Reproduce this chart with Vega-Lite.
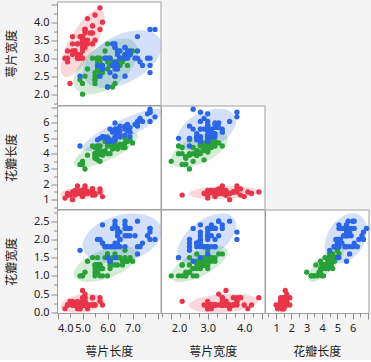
{
"$schema": "https://vega.github.io/schema/vega-lite/v6.json",
"background": "#f4f4f4",
"padding": {"left": 4, "top": 0.5, "right": 2, "bottom": 2},
"spacing": -1,
"config": {
  "view": {"fill": "#ffffff", "stroke": "#a0a0a0", "strokeWidth": 1},
  "concat": {"spacing": 0},
  "axis": {"domain": false, "grid": false, "tickColor": "#8c8c8c", "labelFont": "Noto Sans", "labelFontSize": 11, "labelColor": "#222222", "titleFont": "Noto Sans CJK SC", "titleFontSize": 12, "titleFontWeight": "normal", "titleColor": "#222222"},
  "axisY": {"minExtent": 30, "maxExtent": 30, "titlePadding": 9, "labelPadding": 2},
  "axisX": {"minExtent": 22, "maxExtent": 22, "titlePadding": 11, "labelPadding": 3}
},
"datasets": {
"iris": [
{"sp":"setosa","sl":5.1,"sw":3.5,"pl":1.4,"pw":0.2},{"sp":"setosa","sl":4.9,"sw":3.0,"pl":1.4,"pw":0.2},{"sp":"setosa","sl":4.7,"sw":3.2,"pl":1.3,"pw":0.2},{"sp":"setosa","sl":4.6,"sw":3.1,"pl":1.5,"pw":0.2},{"sp":"setosa","sl":5.0,"sw":3.6,"pl":1.4,"pw":0.2},
{"sp":"setosa","sl":5.4,"sw":3.9,"pl":1.7,"pw":0.4},{"sp":"setosa","sl":4.6,"sw":3.4,"pl":1.4,"pw":0.3},{"sp":"setosa","sl":5.0,"sw":3.4,"pl":1.5,"pw":0.2},{"sp":"setosa","sl":4.4,"sw":2.9,"pl":1.4,"pw":0.2},{"sp":"setosa","sl":4.9,"sw":3.1,"pl":1.5,"pw":0.1},
{"sp":"setosa","sl":5.4,"sw":3.7,"pl":1.5,"pw":0.2},{"sp":"setosa","sl":4.8,"sw":3.4,"pl":1.6,"pw":0.2},{"sp":"setosa","sl":4.8,"sw":3.0,"pl":1.4,"pw":0.1},{"sp":"setosa","sl":4.3,"sw":3.0,"pl":1.1,"pw":0.1},{"sp":"setosa","sl":5.8,"sw":4.0,"pl":1.2,"pw":0.2},
{"sp":"setosa","sl":5.7,"sw":4.4,"pl":1.5,"pw":0.4},{"sp":"setosa","sl":5.4,"sw":3.9,"pl":1.3,"pw":0.4},{"sp":"setosa","sl":5.1,"sw":3.5,"pl":1.4,"pw":0.3},{"sp":"setosa","sl":5.7,"sw":3.8,"pl":1.7,"pw":0.3},{"sp":"setosa","sl":5.1,"sw":3.8,"pl":1.5,"pw":0.3},
{"sp":"setosa","sl":5.4,"sw":3.4,"pl":1.7,"pw":0.2},{"sp":"setosa","sl":5.1,"sw":3.7,"pl":1.5,"pw":0.4},{"sp":"setosa","sl":4.6,"sw":3.6,"pl":1.0,"pw":0.2},{"sp":"setosa","sl":5.1,"sw":3.3,"pl":1.7,"pw":0.5},{"sp":"setosa","sl":4.8,"sw":3.4,"pl":1.9,"pw":0.2},
{"sp":"setosa","sl":5.0,"sw":3.0,"pl":1.6,"pw":0.2},{"sp":"setosa","sl":5.0,"sw":3.4,"pl":1.6,"pw":0.4},{"sp":"setosa","sl":5.2,"sw":3.5,"pl":1.5,"pw":0.2},{"sp":"setosa","sl":5.2,"sw":3.4,"pl":1.4,"pw":0.2},{"sp":"setosa","sl":4.7,"sw":3.2,"pl":1.6,"pw":0.2},
{"sp":"setosa","sl":4.8,"sw":3.1,"pl":1.6,"pw":0.2},{"sp":"setosa","sl":5.4,"sw":3.4,"pl":1.5,"pw":0.4},{"sp":"setosa","sl":5.2,"sw":4.1,"pl":1.5,"pw":0.1},{"sp":"setosa","sl":5.5,"sw":4.2,"pl":1.4,"pw":0.2},{"sp":"setosa","sl":4.9,"sw":3.1,"pl":1.5,"pw":0.2},
{"sp":"setosa","sl":5.0,"sw":3.2,"pl":1.2,"pw":0.2},{"sp":"setosa","sl":5.5,"sw":3.5,"pl":1.3,"pw":0.2},{"sp":"setosa","sl":4.9,"sw":3.6,"pl":1.4,"pw":0.1},{"sp":"setosa","sl":4.4,"sw":3.0,"pl":1.3,"pw":0.2},{"sp":"setosa","sl":5.1,"sw":3.4,"pl":1.5,"pw":0.2},
{"sp":"setosa","sl":5.0,"sw":3.5,"pl":1.3,"pw":0.3},{"sp":"setosa","sl":4.5,"sw":2.3,"pl":1.3,"pw":0.3},{"sp":"setosa","sl":4.4,"sw":3.2,"pl":1.3,"pw":0.2},{"sp":"setosa","sl":5.0,"sw":3.5,"pl":1.6,"pw":0.6},{"sp":"setosa","sl":5.1,"sw":3.8,"pl":1.9,"pw":0.4},
{"sp":"setosa","sl":4.8,"sw":3.0,"pl":1.4,"pw":0.3},{"sp":"setosa","sl":5.1,"sw":3.8,"pl":1.6,"pw":0.2},{"sp":"setosa","sl":4.6,"sw":3.2,"pl":1.4,"pw":0.2},{"sp":"setosa","sl":5.3,"sw":3.7,"pl":1.5,"pw":0.2},{"sp":"setosa","sl":5.0,"sw":3.3,"pl":1.4,"pw":0.2},
{"sp":"versicolor","sl":7.0,"sw":3.2,"pl":4.7,"pw":1.4},{"sp":"versicolor","sl":6.4,"sw":3.2,"pl":4.5,"pw":1.5},{"sp":"versicolor","sl":6.9,"sw":3.1,"pl":4.9,"pw":1.5},{"sp":"versicolor","sl":5.5,"sw":2.3,"pl":4.0,"pw":1.3},{"sp":"versicolor","sl":6.5,"sw":2.8,"pl":4.6,"pw":1.5},
{"sp":"versicolor","sl":5.7,"sw":2.8,"pl":4.5,"pw":1.3},{"sp":"versicolor","sl":6.3,"sw":3.3,"pl":4.7,"pw":1.6},{"sp":"versicolor","sl":4.9,"sw":2.4,"pl":3.3,"pw":1.0},{"sp":"versicolor","sl":6.6,"sw":2.9,"pl":4.6,"pw":1.3},{"sp":"versicolor","sl":5.2,"sw":2.7,"pl":3.9,"pw":1.4},
{"sp":"versicolor","sl":5.0,"sw":2.0,"pl":3.5,"pw":1.0},{"sp":"versicolor","sl":5.9,"sw":3.0,"pl":4.2,"pw":1.5},{"sp":"versicolor","sl":6.0,"sw":2.2,"pl":4.0,"pw":1.0},{"sp":"versicolor","sl":6.1,"sw":2.9,"pl":4.7,"pw":1.4},{"sp":"versicolor","sl":5.6,"sw":2.9,"pl":3.6,"pw":1.3},
{"sp":"versicolor","sl":6.7,"sw":3.1,"pl":4.4,"pw":1.4},{"sp":"versicolor","sl":5.6,"sw":3.0,"pl":4.5,"pw":1.5},{"sp":"versicolor","sl":5.8,"sw":2.7,"pl":4.1,"pw":1.0},{"sp":"versicolor","sl":6.2,"sw":2.2,"pl":4.5,"pw":1.5},{"sp":"versicolor","sl":5.6,"sw":2.5,"pl":3.9,"pw":1.1},
{"sp":"versicolor","sl":5.9,"sw":3.2,"pl":4.8,"pw":1.8},{"sp":"versicolor","sl":6.1,"sw":2.8,"pl":4.0,"pw":1.3},{"sp":"versicolor","sl":6.3,"sw":2.5,"pl":4.9,"pw":1.5},{"sp":"versicolor","sl":6.1,"sw":2.8,"pl":4.7,"pw":1.2},{"sp":"versicolor","sl":6.4,"sw":2.9,"pl":4.3,"pw":1.3},
{"sp":"versicolor","sl":6.6,"sw":3.0,"pl":4.4,"pw":1.4},{"sp":"versicolor","sl":6.8,"sw":2.8,"pl":4.8,"pw":1.4},{"sp":"versicolor","sl":6.7,"sw":3.0,"pl":5.0,"pw":1.7},{"sp":"versicolor","sl":6.0,"sw":2.9,"pl":4.5,"pw":1.5},{"sp":"versicolor","sl":5.7,"sw":2.6,"pl":3.5,"pw":1.0},
{"sp":"versicolor","sl":5.5,"sw":2.4,"pl":3.8,"pw":1.1},{"sp":"versicolor","sl":5.5,"sw":2.4,"pl":3.7,"pw":1.0},{"sp":"versicolor","sl":5.8,"sw":2.7,"pl":3.9,"pw":1.2},{"sp":"versicolor","sl":6.0,"sw":2.7,"pl":5.1,"pw":1.6},{"sp":"versicolor","sl":5.4,"sw":3.0,"pl":4.5,"pw":1.5},
{"sp":"versicolor","sl":6.0,"sw":3.4,"pl":4.5,"pw":1.6},{"sp":"versicolor","sl":6.7,"sw":3.1,"pl":4.7,"pw":1.5},{"sp":"versicolor","sl":6.3,"sw":2.3,"pl":4.4,"pw":1.3},{"sp":"versicolor","sl":5.6,"sw":3.0,"pl":4.1,"pw":1.3},{"sp":"versicolor","sl":5.5,"sw":2.5,"pl":4.0,"pw":1.3},
{"sp":"versicolor","sl":5.5,"sw":2.6,"pl":4.4,"pw":1.2},{"sp":"versicolor","sl":6.1,"sw":3.0,"pl":4.6,"pw":1.4},{"sp":"versicolor","sl":5.8,"sw":2.6,"pl":4.0,"pw":1.2},{"sp":"versicolor","sl":5.0,"sw":2.3,"pl":3.3,"pw":1.0},{"sp":"versicolor","sl":5.6,"sw":2.7,"pl":4.2,"pw":1.3},
{"sp":"versicolor","sl":5.7,"sw":3.0,"pl":4.2,"pw":1.2},{"sp":"versicolor","sl":5.7,"sw":2.9,"pl":4.2,"pw":1.3},{"sp":"versicolor","sl":6.2,"sw":2.9,"pl":4.3,"pw":1.3},{"sp":"versicolor","sl":5.1,"sw":2.5,"pl":3.0,"pw":1.1},{"sp":"versicolor","sl":5.7,"sw":2.8,"pl":4.1,"pw":1.3},
{"sp":"virginica","sl":6.3,"sw":3.3,"pl":6.0,"pw":2.5},{"sp":"virginica","sl":5.8,"sw":2.7,"pl":5.1,"pw":1.9},{"sp":"virginica","sl":7.1,"sw":3.0,"pl":5.9,"pw":2.1},{"sp":"virginica","sl":6.3,"sw":2.9,"pl":5.6,"pw":1.8},{"sp":"virginica","sl":6.5,"sw":3.0,"pl":5.8,"pw":2.2},
{"sp":"virginica","sl":7.6,"sw":3.0,"pl":6.6,"pw":2.1},{"sp":"virginica","sl":4.9,"sw":2.5,"pl":4.5,"pw":1.7},{"sp":"virginica","sl":7.3,"sw":2.9,"pl":6.3,"pw":1.8},{"sp":"virginica","sl":6.7,"sw":2.5,"pl":5.8,"pw":1.8},{"sp":"virginica","sl":7.2,"sw":3.6,"pl":6.1,"pw":2.5},
{"sp":"virginica","sl":6.5,"sw":3.2,"pl":5.1,"pw":2.0},{"sp":"virginica","sl":6.4,"sw":2.7,"pl":5.3,"pw":1.9},{"sp":"virginica","sl":6.8,"sw":3.0,"pl":5.5,"pw":2.1},{"sp":"virginica","sl":5.7,"sw":2.5,"pl":5.0,"pw":2.0},{"sp":"virginica","sl":5.8,"sw":2.8,"pl":5.1,"pw":2.4},
{"sp":"virginica","sl":6.4,"sw":3.2,"pl":5.3,"pw":2.3},{"sp":"virginica","sl":6.5,"sw":3.0,"pl":5.5,"pw":1.8},{"sp":"virginica","sl":7.7,"sw":3.8,"pl":6.7,"pw":2.2},{"sp":"virginica","sl":7.7,"sw":2.6,"pl":6.9,"pw":2.3},{"sp":"virginica","sl":6.0,"sw":2.2,"pl":5.0,"pw":1.5},
{"sp":"virginica","sl":6.9,"sw":3.2,"pl":5.7,"pw":2.3},{"sp":"virginica","sl":5.6,"sw":2.8,"pl":4.9,"pw":2.0},{"sp":"virginica","sl":7.7,"sw":2.8,"pl":6.7,"pw":2.0},{"sp":"virginica","sl":6.3,"sw":2.7,"pl":4.9,"pw":1.8},{"sp":"virginica","sl":6.7,"sw":3.3,"pl":5.7,"pw":2.1},
{"sp":"virginica","sl":7.2,"sw":3.2,"pl":6.0,"pw":1.8},{"sp":"virginica","sl":6.2,"sw":2.8,"pl":4.8,"pw":1.8},{"sp":"virginica","sl":6.1,"sw":3.0,"pl":4.9,"pw":1.8},{"sp":"virginica","sl":6.4,"sw":2.8,"pl":5.6,"pw":2.1},{"sp":"virginica","sl":7.2,"sw":3.0,"pl":5.8,"pw":1.6},
{"sp":"virginica","sl":7.4,"sw":2.8,"pl":6.1,"pw":1.9},{"sp":"virginica","sl":7.9,"sw":3.8,"pl":6.4,"pw":2.0},{"sp":"virginica","sl":6.4,"sw":2.8,"pl":5.6,"pw":2.2},{"sp":"virginica","sl":6.3,"sw":2.8,"pl":5.1,"pw":1.5},{"sp":"virginica","sl":6.1,"sw":2.6,"pl":5.6,"pw":1.4},
{"sp":"virginica","sl":7.7,"sw":3.0,"pl":6.1,"pw":2.3},{"sp":"virginica","sl":6.3,"sw":3.4,"pl":5.6,"pw":2.4},{"sp":"virginica","sl":6.4,"sw":3.1,"pl":5.5,"pw":1.8},{"sp":"virginica","sl":6.0,"sw":3.0,"pl":4.8,"pw":1.8},{"sp":"virginica","sl":6.9,"sw":3.1,"pl":5.4,"pw":2.1},
{"sp":"virginica","sl":6.7,"sw":3.1,"pl":5.6,"pw":2.4},{"sp":"virginica","sl":6.9,"sw":3.1,"pl":5.1,"pw":2.3},{"sp":"virginica","sl":5.8,"sw":2.7,"pl":5.1,"pw":1.9},{"sp":"virginica","sl":6.8,"sw":3.2,"pl":5.9,"pw":2.3},{"sp":"virginica","sl":6.7,"sw":3.3,"pl":5.7,"pw":2.5},
{"sp":"virginica","sl":6.7,"sw":3.0,"pl":5.2,"pw":2.3},{"sp":"virginica","sl":6.3,"sw":2.5,"pl":5.0,"pw":1.9},{"sp":"virginica","sl":6.5,"sw":3.0,"pl":5.2,"pw":2.0},{"sp":"virginica","sl":6.2,"sw":3.4,"pl":5.4,"pw":2.3},{"sp":"virginica","sl":5.9,"sw":3.0,"pl":5.1,"pw":1.8}
],
"e1": [
{"sp":"setosa","i":0,"sl":5.887,"sw":4.132},{"sp":"setosa","i":1,"sl":5.629,"sw":4.375},{"sp":"setosa","i":2,"sl":5.006,"sw":4.063},{"sp":"setosa","i":3,"sl":4.383,"sw":3.379},{"sp":"setosa","i":4,"sl":4.125,"sw":2.724},{"sp":"setosa","i":5,"sl":4.383,"sw":2.481},{"sp":"setosa","i":6,"sl":5.006,"sw":2.793},{"sp":"setosa","i":7,"sl":5.629,"sw":3.477},
{"sp":"versicolor","i":0,"sl":7.227,"sw":3.183},{"sp":"versicolor","i":1,"sl":6.849,"sw":3.534},{"sp":"versicolor","i":2,"sl":5.936,"sw":3.437},{"sp":"versicolor","i":3,"sl":5.024,"sw":2.950},{"sp":"versicolor","i":4,"sl":4.646,"sw":2.357},{"sp":"versicolor","i":5,"sl":5.024,"sw":2.007},{"sp":"versicolor","i":6,"sl":5.936,"sw":2.103},{"sp":"versicolor","i":7,"sl":6.849,"sw":2.590},
{"sp":"virginica","i":0,"sl":8.178,"sw":3.343},{"sp":"virginica","i":1,"sl":7.712,"sw":3.742},{"sp":"virginica","i":2,"sl":6.588,"sw":3.691},{"sp":"virginica","i":3,"sl":5.464,"sw":3.220},{"sp":"virginica","i":4,"sl":4.998,"sw":2.605},{"sp":"virginica","i":5,"sl":5.464,"sw":2.206},{"sp":"virginica","i":6,"sl":6.588,"sw":2.257},{"sp":"virginica","i":7,"sl":7.712,"sw":2.728}
],
"e2": [
{"sp":"setosa","i":0,"sl":5.887,"pl":1.578},{"sp":"setosa","i":1,"sl":5.629,"pl":1.840},{"sp":"setosa","i":2,"sl":5.006,"pl":1.881},{"sp":"setosa","i":3,"sl":4.383,"pl":1.676},{"sp":"setosa","i":4,"sl":4.125,"pl":1.346},{"sp":"setosa","i":5,"sl":4.383,"pl":1.084},{"sp":"setosa","i":6,"sl":5.006,"pl":1.044},{"sp":"setosa","i":7,"sl":5.629,"pl":1.248},
{"sp":"versicolor","i":0,"sl":7.227,"pl":5.146},{"sp":"versicolor","i":1,"sl":6.849,"pl":5.432},{"sp":"versicolor","i":2,"sl":5.936,"pl":5.032},{"sp":"versicolor","i":3,"sl":5.024,"pl":4.179},{"sp":"versicolor","i":4,"sl":4.646,"pl":3.374},{"sp":"versicolor","i":5,"sl":5.024,"pl":3.088},{"sp":"versicolor","i":6,"sl":5.936,"pl":3.488},{"sp":"versicolor","i":7,"sl":6.849,"pl":4.341},
{"sp":"virginica","i":0,"sl":8.178,"pl":6.744},{"sp":"virginica","i":1,"sl":7.712,"pl":6.886},{"sp":"virginica","i":2,"sl":6.588,"pl":6.246},{"sp":"virginica","i":3,"sl":5.464,"pl":5.200},{"sp":"virginica","i":4,"sl":4.998,"pl":4.360},{"sp":"virginica","i":5,"sl":5.464,"pl":4.218},{"sp":"virginica","i":6,"sl":6.588,"pl":4.858},{"sp":"virginica","i":7,"sl":7.712,"pl":5.904}
],
"e3": [
{"sp":"setosa","i":0,"sw":4.376,"pl":1.539},{"sp":"setosa","i":1,"sw":4.098,"pl":1.819},{"sp":"setosa","i":2,"sw":3.428,"pl":1.889},{"sp":"setosa","i":3,"sw":2.758,"pl":1.710},{"sp":"setosa","i":4,"sw":2.480,"pl":1.385},{"sp":"setosa","i":5,"sw":2.758,"pl":1.105},{"sp":"setosa","i":6,"sw":3.428,"pl":1.035},{"sp":"setosa","i":7,"sw":4.098,"pl":1.214},
{"sp":"versicolor","i":0,"sw":3.555,"pl":4.919},{"sp":"versicolor","i":1,"sw":3.325,"pl":5.414},{"sp":"versicolor","i":2,"sw":2.770,"pl":5.233},{"sp":"versicolor","i":3,"sw":2.215,"pl":4.482},{"sp":"versicolor","i":4,"sw":1.986,"pl":3.602},{"sp":"versicolor","i":5,"sw":2.215,"pl":3.107},{"sp":"versicolor","i":6,"sw":2.770,"pl":3.287},{"sp":"versicolor","i":7,"sw":3.325,"pl":4.038},
{"sp":"virginica","i":0,"sw":3.780,"pl":6.105},{"sp":"virginica","i":1,"sw":3.544,"pl":6.837},{"sp":"virginica","i":2,"sw":2.974,"pl":6.816},{"sp":"virginica","i":3,"sw":2.404,"pl":6.055},{"sp":"virginica","i":4,"sw":2.168,"pl":4.999},{"sp":"virginica","i":5,"sw":2.404,"pl":4.267},{"sp":"virginica","i":6,"sw":2.974,"pl":4.288},{"sp":"virginica","i":7,"sw":3.544,"pl":5.049}
],
"e4": [
{"sp":"setosa","i":0,"sl":5.887,"pw":0.319},{"sp":"setosa","i":1,"sl":5.629,"pw":0.477},{"sp":"setosa","i":2,"sl":5.006,"pw":0.499},{"sp":"setosa","i":3,"sl":4.383,"pw":0.373},{"sp":"setosa","i":4,"sl":4.125,"pw":0.173},{"sp":"setosa","i":5,"sl":4.383,"pw":0.015},{"sp":"setosa","i":6,"sl":5.006,"pw":-0.007},{"sp":"setosa","i":7,"sl":5.629,"pw":0.119},
{"sp":"versicolor","i":0,"sl":7.227,"pw":1.596},{"sp":"versicolor","i":1,"sl":6.849,"pw":1.810},{"sp":"versicolor","i":2,"sl":5.936,"pw":1.740},{"sp":"versicolor","i":3,"sl":5.024,"pw":1.428},{"sp":"versicolor","i":4,"sl":4.646,"pw":1.056},{"sp":"versicolor","i":5,"sl":5.024,"pw":0.842},{"sp":"versicolor","i":6,"sl":5.936,"pw":0.912},{"sp":"versicolor","i":7,"sl":6.849,"pw":1.224},
{"sp":"virginica","i":0,"sl":8.178,"pw":2.219},{"sp":"virginica","i":1,"sl":7.712,"pw":2.629},{"sp":"virginica","i":2,"sl":6.588,"pw":2.685},{"sp":"virginica","i":3,"sl":5.464,"pw":2.356},{"sp":"virginica","i":4,"sl":4.998,"pw":1.833},{"sp":"virginica","i":5,"sl":5.464,"pw":1.424},{"sp":"virginica","i":6,"sl":6.588,"pw":1.367},{"sp":"virginica","i":7,"sl":7.712,"pw":1.696}
],
"e5": [
{"sp":"setosa","i":0,"sw":4.376,"pw":0.307},{"sp":"setosa","i":1,"sw":4.098,"pw":0.471},{"sp":"setosa","i":2,"sw":3.428,"pw":0.502},{"sp":"setosa","i":3,"sw":2.758,"pw":0.384},{"sp":"setosa","i":4,"sw":2.480,"pw":0.185},{"sp":"setosa","i":5,"sw":2.758,"pw":0.022},{"sp":"setosa","i":6,"sw":3.428,"pw":-0.010},{"sp":"setosa","i":7,"sw":4.098,"pw":0.108},
{"sp":"versicolor","i":0,"sw":3.555,"pw":1.654},{"sp":"versicolor","i":1,"sw":3.325,"pw":1.820},{"sp":"versicolor","i":2,"sw":2.770,"pw":1.696},{"sp":"versicolor","i":3,"sw":2.215,"pw":1.355},{"sp":"versicolor","i":4,"sw":1.986,"pw":0.998},{"sp":"versicolor","i":5,"sw":2.215,"pw":0.832},{"sp":"versicolor","i":6,"sw":2.770,"pw":0.956},{"sp":"versicolor","i":7,"sw":3.325,"pw":1.297},
{"sp":"virginica","i":0,"sw":3.780,"pw":2.395},{"sp":"virginica","i":1,"sw":3.544,"pw":2.697},{"sp":"virginica","i":2,"sw":2.974,"pw":2.605},{"sp":"virginica","i":3,"sw":2.404,"pw":2.174},{"sp":"virginica","i":4,"sw":2.168,"pw":1.657},{"sp":"virginica","i":5,"sw":2.404,"pw":1.356},{"sp":"virginica","i":6,"sw":2.974,"pw":1.447},{"sp":"virginica","i":7,"sw":3.544,"pw":1.878}
],
"e6": [
{"sp":"setosa","i":0,"pl":1.896,"pw":0.333},{"sp":"setosa","i":1,"pl":1.769,"pw":0.484},{"sp":"setosa","i":2,"pl":1.462,"pw":0.495},{"sp":"setosa","i":3,"pl":1.155,"pw":0.360},{"sp":"setosa","i":4,"pl":1.028,"pw":0.159},{"sp":"setosa","i":5,"pl":1.155,"pw":0.009},{"sp":"setosa","i":6,"pl":1.462,"pw":-0.003},{"sp":"setosa","i":7,"pl":1.769,"pw":0.132},
{"sp":"versicolor","i":0,"pl":5.435,"pw":1.715},{"sp":"versicolor","i":1,"pl":5.091,"pw":1.817},{"sp":"versicolor","i":2,"pl":4.260,"pw":1.631},{"sp":"versicolor","i":3,"pl":3.429,"pw":1.267},{"sp":"versicolor","i":4,"pl":3.085,"pw":0.937},{"sp":"versicolor","i":5,"pl":3.429,"pw":0.835},{"sp":"versicolor","i":6,"pl":4.260,"pw":1.021},{"sp":"versicolor","i":7,"pl":5.091,"pw":1.385},
{"sp":"virginica","i":0,"pl":6.932,"pw":2.247},{"sp":"virginica","i":1,"pl":6.528,"pw":2.642},{"sp":"virginica","i":2,"pl":5.552,"pw":2.676},{"sp":"virginica","i":3,"pl":4.576,"pw":2.329},{"sp":"virginica","i":4,"pl":4.172,"pw":1.805},{"sp":"virginica","i":5,"pl":4.576,"pw":1.410},{"sp":"virginica","i":6,"pl":5.552,"pw":1.376},{"sp":"virginica","i":7,"pl":6.528,"pw":1.723}
]
},
"vconcat": [
{"hconcat": [
  {"width": 103.5, "height": 103.5,
   "encoding": {
     "x": {"field": "sl", "type": "quantitative", "scale": {"domain": [3.98, 8.12], "nice": false, "zero": false}, "axis": null},
     "y": {"field": "sw", "type": "quantitative", "scale": {"domain": [1.70, 4.575], "nice": false, "zero": false},
           "axis": {"title": "萼片宽度", "values": [1.75,2,2.25,2.5,2.75,3,3.25,3.5,3.75,4,4.25,4.5], "labelExpr": "datum.value % 0.5 === 0 && datum.value <= 4 ? format(datum.value, '.1f') : ''", "tickSize": {"condition": {"test": "datum.value % 0.5 === 0", "value": 6}, "value": 3.5}}}
   },
   "layer": [
     {"data": {"name": "e1"}, "mark": {"type": "line", "interpolate": "cardinal-closed", "fillOpacity": 0.2, "strokeWidth": 0, "clip": true},
      "encoding": {"fill": {"field": "sp", "type": "nominal", "scale": {"domain": ["setosa","versicolor","virginica"], "range": ["#E8354A","#29A038","#2A66E6"]}, "legend": null}, "order": {"field": "i", "type": "quantitative"}}},
     {"data": {"name": "iris"}, "mark": {"type": "circle", "size": 28, "opacity": 1},
      "encoding": {"color": {"field": "sp", "type": "nominal", "scale": {"domain": ["setosa","versicolor","virginica"], "range": ["#E8354A","#29A038","#2A66E6"]}, "legend": null}}}
   ]}
], "spacing": 0, "bounds": "flush"},
{"hconcat": [
  {"width": 103.5, "height": 103.5,
   "encoding": {
     "x": {"field": "sl", "type": "quantitative", "scale": {"domain": [3.98, 8.12], "nice": false, "zero": false}, "axis": null},
     "y": {"field": "pl", "type": "quantitative", "scale": {"domain": [0.39, 7.14], "nice": false, "zero": false},
           "axis": {"title": "花瓣长度", "values": [0.5,1,1.5,2,2.5,3,3.5,4,4.5,5,5.5,6,6.5,7], "labelExpr": "datum.value % 1 === 0 && datum.value <= 6 ? format(datum.value, 'd') : ''", "tickSize": {"condition": {"test": "datum.value % 1 === 0", "value": 6}, "value": 3.5}}}
   },
   "layer": [
     {"data": {"name": "e2"}, "mark": {"type": "line", "interpolate": "cardinal-closed", "fillOpacity": 0.2, "strokeWidth": 0, "clip": true},
      "encoding": {"fill": {"field": "sp", "type": "nominal", "scale": {"domain": ["setosa","versicolor","virginica"], "range": ["#E8354A","#29A038","#2A66E6"]}, "legend": null}, "order": {"field": "i", "type": "quantitative"}}},
     {"data": {"name": "iris"}, "mark": {"type": "circle", "size": 28, "opacity": 1},
      "encoding": {"color": {"field": "sp", "type": "nominal", "scale": {"domain": ["setosa","versicolor","virginica"], "range": ["#E8354A","#29A038","#2A66E6"]}, "legend": null}}}
   ]},
  {"width": 103.5, "height": 103.5,
   "encoding": {
     "x": {"field": "sw", "type": "quantitative", "scale": {"domain": [1.72, 4.556], "nice": false, "zero": false}, "axis": null},
     "y": {"field": "pl", "type": "quantitative", "scale": {"domain": [0.39, 7.14], "nice": false, "zero": false}, "axis": null}
   },
   "layer": [
     {"data": {"name": "e3"}, "mark": {"type": "line", "interpolate": "cardinal-closed", "fillOpacity": 0.2, "strokeWidth": 0, "clip": true},
      "encoding": {"fill": {"field": "sp", "type": "nominal", "scale": {"domain": ["setosa","versicolor","virginica"], "range": ["#E8354A","#29A038","#2A66E6"]}, "legend": null}, "order": {"field": "i", "type": "quantitative"}}},
     {"data": {"name": "iris"}, "mark": {"type": "circle", "size": 28, "opacity": 1},
      "encoding": {"color": {"field": "sp", "type": "nominal", "scale": {"domain": ["setosa","versicolor","virginica"], "range": ["#E8354A","#29A038","#2A66E6"]}, "legend": null}}}
   ]}
], "spacing": 0, "bounds": "flush"},
{"hconcat": [
  {"width": 103.5, "height": 103.5,
   "encoding": {
     "x": {"field": "sl", "type": "quantitative", "scale": {"domain": [3.98, 8.12], "nice": false, "zero": false},
           "axis": {"title": "萼片长度", "values": [4,4.5,5,5.5,6,6.5,7,7.5,8], "labelExpr": "datum.value % 1 === 0 && datum.value < 8 ? format(datum.value, '.1f') : ''", "labelFlush": 2, "tickSize": {"condition": {"test": "datum.value % 1 === 0", "value": 6}, "value": 4}}},
     "y": {"field": "pw", "type": "quantitative", "scale": {"domain": [-0.02, 2.82], "nice": false, "zero": false},
           "axis": {"title": "花瓣宽度", "values": [0,0.25,0.5,0.75,1,1.25,1.5,1.75,2,2.25,2.5,2.75], "labelExpr": "datum.value % 0.5 === 0 && datum.value <= 2.5 ? format(datum.value, '.1f') : ''", "tickSize": {"condition": {"test": "datum.value % 0.5 === 0", "value": 6}, "value": 3.5}}}
   },
   "layer": [
     {"data": {"name": "e4"}, "mark": {"type": "line", "interpolate": "cardinal-closed", "fillOpacity": 0.2, "strokeWidth": 0, "clip": true},
      "encoding": {"fill": {"field": "sp", "type": "nominal", "scale": {"domain": ["setosa","versicolor","virginica"], "range": ["#E8354A","#29A038","#2A66E6"]}, "legend": null}, "order": {"field": "i", "type": "quantitative"}}},
     {"data": {"name": "iris"}, "mark": {"type": "circle", "size": 28, "opacity": 1},
      "encoding": {"color": {"field": "sp", "type": "nominal", "scale": {"domain": ["setosa","versicolor","virginica"], "range": ["#E8354A","#29A038","#2A66E6"]}, "legend": null}}}
   ]},
  {"width": 103.5, "height": 103.5,
   "encoding": {
     "x": {"field": "sw", "type": "quantitative", "scale": {"domain": [1.72, 4.556], "nice": false, "zero": false},
           "axis": {"title": "萼片宽度", "values": [1.75,2,2.25,2.5,2.75,3,3.25,3.5,3.75,4,4.25,4.5], "labelExpr": "datum.value % 1 === 0 ? format(datum.value, '.1f') : ''", "labelFlush": 11, "tickSize": {"condition": {"test": "datum.value % 0.5 === 0", "value": 6}, "value": 4}}},
     "y": {"field": "pw", "type": "quantitative", "scale": {"domain": [-0.02, 2.82], "nice": false, "zero": false}, "axis": null}
   },
   "layer": [
     {"data": {"name": "e5"}, "mark": {"type": "line", "interpolate": "cardinal-closed", "fillOpacity": 0.2, "strokeWidth": 0, "clip": true},
      "encoding": {"fill": {"field": "sp", "type": "nominal", "scale": {"domain": ["setosa","versicolor","virginica"], "range": ["#E8354A","#29A038","#2A66E6"]}, "legend": null}, "order": {"field": "i", "type": "quantitative"}}},
     {"data": {"name": "iris"}, "mark": {"type": "circle", "size": 28, "opacity": 1},
      "encoding": {"color": {"field": "sp", "type": "nominal", "scale": {"domain": ["setosa","versicolor","virginica"], "range": ["#E8354A","#29A038","#2A66E6"]}, "legend": null}}}
   ]},
  {"width": 103.5, "height": 103.5,
   "encoding": {
     "x": {"field": "pl", "type": "quantitative", "scale": {"domain": [0.28, 7.03], "nice": false, "zero": false},
           "axis": {"title": "花瓣长度", "values": [0.5,1,1.5,2,2.5,3,3.5,4,4.5,5,5.5,6,6.5,7], "labelExpr": "datum.value % 1 === 0 && datum.value <= 6 ? format(datum.value, 'd') : ''", "tickSize": {"condition": {"test": "datum.value % 1 === 0", "value": 6}, "value": 4}}},
     "y": {"field": "pw", "type": "quantitative", "scale": {"domain": [-0.02, 2.82], "nice": false, "zero": false}, "axis": null}
   },
   "layer": [
     {"data": {"name": "e6"}, "mark": {"type": "line", "interpolate": "cardinal-closed", "fillOpacity": 0.2, "strokeWidth": 0, "clip": true},
      "encoding": {"fill": {"field": "sp", "type": "nominal", "scale": {"domain": ["setosa","versicolor","virginica"], "range": ["#E8354A","#29A038","#2A66E6"]}, "legend": null}, "order": {"field": "i", "type": "quantitative"}}},
     {"data": {"name": "iris"}, "mark": {"type": "circle", "size": 28, "opacity": 1},
      "encoding": {"color": {"field": "sp", "type": "nominal", "scale": {"domain": ["setosa","versicolor","virginica"], "range": ["#E8354A","#29A038","#2A66E6"]}, "legend": null}}}
   ]}
], "spacing": 0, "bounds": "flush"}
]
}
